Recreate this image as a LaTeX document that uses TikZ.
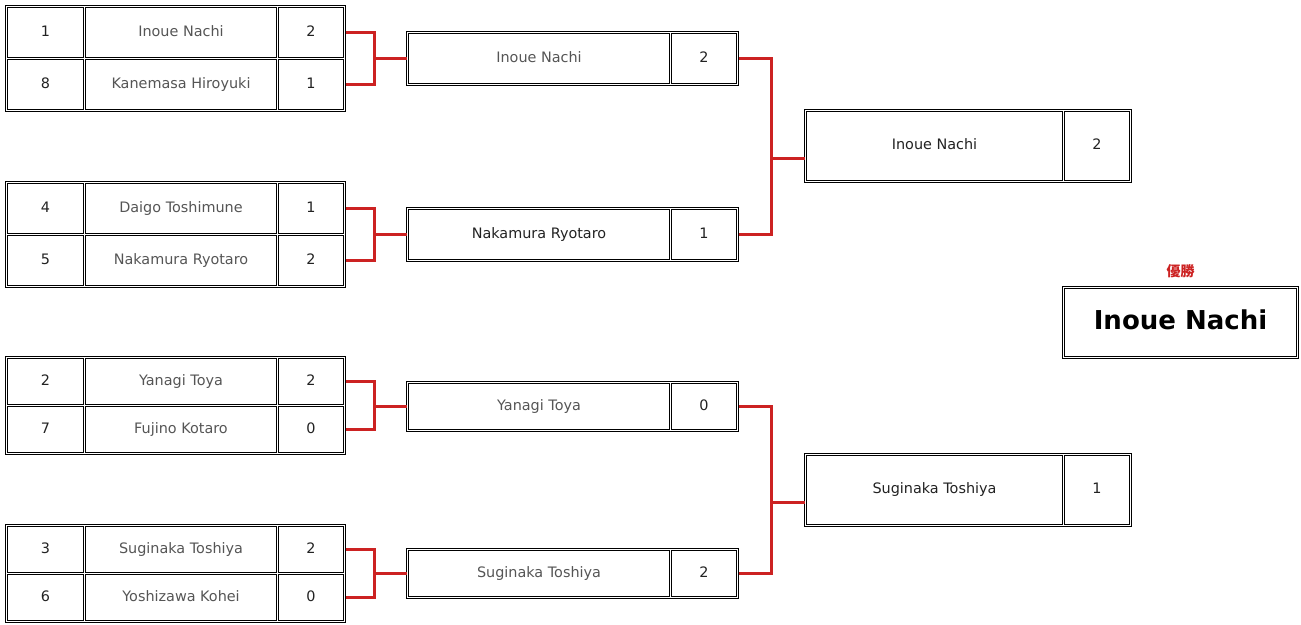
\documentclass[tikz,border=0pt]{standalone}
\usepackage{fontspec}
\setmainfont{DejaVu Sans}
\newfontfamily\jpfont{Noto Sans CJK JP}
\usepackage{xcolor}
\usepackage{tikz}
\usetikzlibrary{positioning, fit}
\definecolor{linkred}{RGB}{204,34,34}
\definecolor{namegray}{RGB}{85,85,85}
\definecolor{scoreblack}{RGB}{34,34,34}

\begin{document}
\begin{tikzpicture}[
    x=1pt, y=-1pt,
    font=\fontsize{14.4}{17}\selectfont,
    cell_common/.style={draw=black, line width=1pt, outer sep=0pt, inner sep=0pt, align=center, text height=10.5pt, text depth=3pt, minimum height=50pt},
    cell_seed/.style={cell_common, minimum width=76pt, text=scoreblack},
    cell_name/.style={cell_common, minimum width=191pt, text=namegray},
    cell_score/.style={cell_common, minimum width=65pt, text=scoreblack},
    cell_name2/.style={cell_common, minimum width=261pt, text=namegray},
    cell_name3/.style={cell_common, minimum width=256pt, minimum height=69pt, text=scoreblack},
    table_frame/.style={draw=black, line width=1pt, outer sep=0pt, inner sep=2pt},
    link/.style={draw=linkred, line width=3pt}
]
\useasboundingbox (0,0) rectangle (1301,624);

% Round 1
\node[cell_seed] (seed1a) at (45.5,32.5) {1};
\node[cell_name, right=2pt of seed1a] (name1a) {Inoue Nachi};
\node[cell_score, right=2pt of name1a] (sc1a) {2};
\node[cell_seed, below=2pt of seed1a] (seed1b) {8};
\node[cell_name, right=2pt of seed1b] (name1b) {Kanemasa Hiroyuki};
\node[cell_score, right=2pt of name1b] (sc1b) {1};
\node[table_frame, fit=(seed1a)(sc1b)] (t1) {};

\node[cell_seed] (seed2a) at (45.5,208.5) {4};
\node[cell_name, right=2pt of seed2a] (name2a) {Daigo Toshimune};
\node[cell_score, right=2pt of name2a] (sc2a) {1};
\node[cell_seed, below=2pt of seed2a] (seed2b) {5};
\node[cell_name, right=2pt of seed2b] (name2b) {Nakamura Ryotaro};
\node[cell_score, right=2pt of name2b] (sc2b) {2};
\node[table_frame, fit=(seed2a)(sc2b)] (t2) {};

\node[cell_seed, minimum height=46pt] (seed3a) at (45.5,381.5) {2};
\node[cell_name, minimum height=46pt, right=2pt of seed3a] (name3a) {Yanagi Toya};
\node[cell_score, minimum height=46pt, right=2pt of name3a] (sc3a) {2};
\node[cell_seed, minimum height=46pt, below=2pt of seed3a] (seed3b) {7};
\node[cell_name, minimum height=46pt, right=2pt of seed3b] (name3b) {Fujino Kotaro};
\node[cell_score, minimum height=46pt, right=2pt of name3b] (sc3b) {0};
\node[table_frame, fit=(seed3a)(sc3b)] (t3) {};

\node[cell_seed, minimum height=46pt] (seed4a) at (45.5,549.5) {3};
\node[cell_name, minimum height=46pt, right=2pt of seed4a] (name4a) {Suginaka Toshiya};
\node[cell_score, minimum height=46pt, right=2pt of name4a] (sc4a) {2};
\node[cell_seed, minimum height=46pt, below=2pt of seed4a] (seed4b) {6};
\node[cell_name, minimum height=46pt, right=2pt of seed4b] (name4b) {Yoshizawa Kohei};
\node[cell_score, minimum height=46pt, right=2pt of name4b] (sc4b) {0};
\node[table_frame, fit=(seed4a)(sc4b)] (t4) {};

% Round 2
\node[cell_name2] (name5) at (539,58.5) {Inoue Nachi};
\node[cell_score, right=2pt of name5] (sc5) {2};
\node[table_frame, fit=(name5)(sc5)] (t5) {};

\node[cell_name2, text=scoreblack] (name6) at (539,234.5) {Nakamura Ryotaro};
\node[cell_score, right=2pt of name6] (sc6) {1};
\node[table_frame, fit=(name6)(sc6)] (t6) {};

\node[cell_name2, minimum height=46pt] (name7) at (539,406.5) {Yanagi Toya};
\node[cell_score, minimum height=46pt, right=2pt of name7] (sc7) {0};
\node[table_frame, fit=(name7)(sc7)] (t7) {};

\node[cell_name2, minimum height=46pt] (name8) at (539,573.5) {Suginaka Toshiya};
\node[cell_score, minimum height=46pt, right=2pt of name8] (sc8) {2};
\node[table_frame, fit=(name8)(sc8)] (t8) {};

% Round 3
\node[cell_name3] (name9) at (934.5,146) {Inoue Nachi};
\node[cell_score, minimum height=69pt, right=2pt of name9] (sc9) {2};
\node[table_frame, fit=(name9)(sc9)] (t9) {};

\node[cell_name3] (name10) at (934.5,490) {Suginaka Toshiya};
\node[cell_score, minimum height=69pt, right=2pt of name10] (sc10) {1};
\node[table_frame, fit=(name10)(sc10)] (t10) {};

% Winner
\node[cell_common, minimum width=232pt, minimum height=68pt, text=black, font=\fontsize{26}{30}\selectfont\bfseries, text height=19pt, text depth=5pt] (champ) at (1180.5,322.5) {Inoue Nachi};
\node[table_frame, fit=(champ)] (t11) {};
\node[above=8pt of t11, inner sep=0pt, text=linkred, font=\jpfont\bfseries\fontsize{14}{16}\selectfont] (champ_label) {優勝};

% Links
\coordinate (j1) at ([xshift=-32pt]t5.west);
\coordinate (j2) at ([xshift=-32pt]t6.west);
\coordinate (j3) at ([xshift=-32pt]t7.west);
\coordinate (j4) at ([xshift=-32pt]t8.west);
\coordinate (j5) at ([xshift=-33pt,yshift=-12pt]t9.west);
\coordinate (j6) at ([xshift=-33pt,yshift=-12pt]t10.west);

\draw[link] (t1.east |- sc1a) -| (j1) |- (t1.east |- sc1b);
\draw[link] (j1) -- (t5.west);
\draw[link] (t2.east |- sc2a) -| (j2) |- (t2.east |- sc2b);
\draw[link] (j2) -- (t6.west);
\draw[link] (t3.east |- sc3a) -| (j3) |- (t3.east |- sc3b);
\draw[link] (j3) -- (t7.west);
\draw[link] (t4.east |- sc4a) -| (j4) |- (t4.east |- sc4b);
\draw[link] (j4) -- (t8.west);

\draw[link] (t5.east) -| (j5) |- (t6.east);
\draw[link] (j5) -- (j5 -| t9.west);
\draw[link] (t7.east) -| (j6) |- (t8.east);
\draw[link] (j6) -- (j6 -| t10.west);

\end{tikzpicture}
\end{document}
